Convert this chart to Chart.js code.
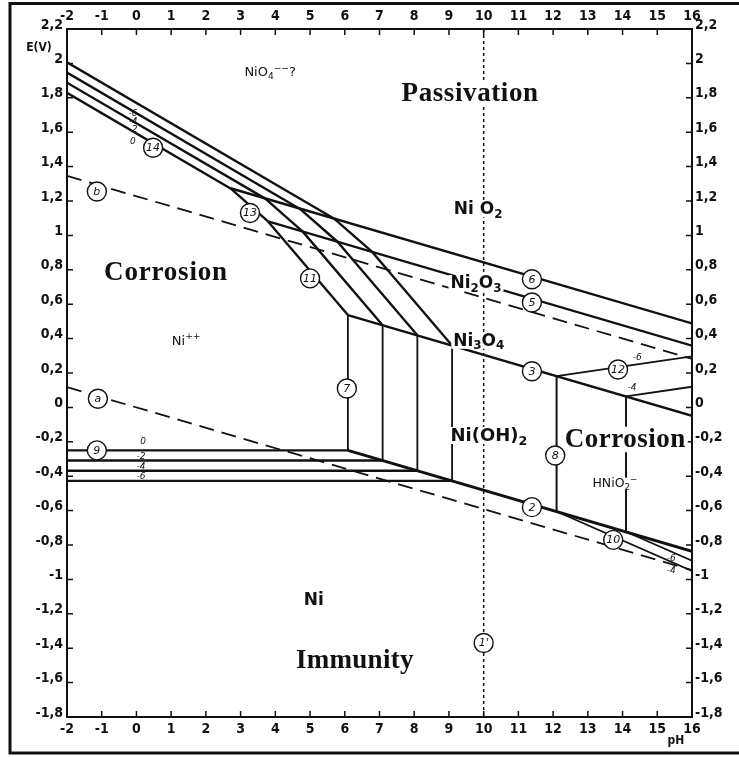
<!DOCTYPE html>
<html>
<head>
<meta charset="utf-8">
<script src="https://cdn.jsdelivr.net/npm/chart.js@4.4.1/dist/chart.umd.min.js"></script>
<style>
  html, body { margin: 0; padding: 0; background: #fff; }
  canvas { display: block; }
</style>
</head>
<body>
<canvas id="pourbaix" width="739" height="757"></canvas>
<script>
// axis ranges
const phMin = -2, phMax = 16;
const eMin = -1.8, eMax = 2.2;

// water lines (dashed) and the pH 10 reference (dotted)
const lineA = [[-2, 0.118], [16, -0.946]];
const lineB = [[-2, 1.346], [16, 0.282]];
const line1p = [[10, 2.2], [10, -1.8]];

// one segment per concentration (log C = 0, -2, -4, -6)
const line14 = [
    [[-2, 1.829], [2.71, 1.273]],
    [[-2, 1.888], [3.71, 1.214]],
    [[-2, 1.947], [4.71, 1.154]],
    [[-2, 2.006], [5.71, 1.095]]
];
const line13 = [
    [[2.71, 1.273], [3.79, 1.081]],
    [[3.71, 1.214], [4.79, 1.022]],
    [[4.71, 1.154], [5.79, 0.963]],
    [[5.71, 1.095], [6.79, 0.904]]
];
const line11 = [
    [[3.79, 1.081], [6.09, 0.537]],
    [[4.79, 1.022], [7.09, 0.478]],
    [[5.79, 0.963], [8.09, 0.419]],
    [[6.79, 0.904], [9.09, 0.360]]
];
const line7 = [
    [[6.09, -0.250], [6.09, 0.537]],
    [[7.09, -0.309], [7.09, 0.478]],
    [[8.09, -0.368], [8.09, 0.419]],
    [[9.09, -0.427], [9.09, 0.360]]
];
const line9 = [
    [[-2, -0.250], [6.09, -0.250]],
    [[-2, -0.309], [7.09, -0.309]],
    [[-2, -0.368], [8.09, -0.368]],
    [[-2, -0.427], [9.09, -0.427]]
];
const line6 = [[2.71, 1.274], [16, 0.488]];
const line5 = [[3.79, 1.081], [16, 0.359]];
const line3 = [[6.09, 0.537], [16, -0.049]];
const line2 = [[6.09, -0.250], [16, -0.836]];
// HNiO2- side (log C = -6, -4)
const line8 = [
    [[12.1, -0.605], [12.1, 0.182]],
    [[14.1, -0.723], [14.1, 0.064]]
];
const line12 = [
    [[12.1, 0.182], [16, 0.297]],
    [[14.1, 0.064], [16, 0.120]]
];
const line10 = [
    [[12.1, -0.605], [16, -0.951]],
    [[14.1, -0.723], [16, -0.891]]
];

// circled line numbers
const circleTags = [
    ['14', 0.48, 1.51], ['b', -1.14, 1.255], ['13', 3.27, 1.13], ['11', 5.0, 0.75],
    ['6', 11.39, 0.745], ['5', 11.39, 0.61], ['3', 11.39, 0.21], ['12', 13.87, 0.22],
    ['7', 6.06, 0.11], ['8', 12.06, -0.28], ['a', -1.11, 0.05], ['9', -1.14, -0.25],
    ['2', 11.39, -0.58], ['10', 13.73, -0.77], ["1'", 10.0, -1.37]
];

// small concentration marks
const concTags = [
    ['0', -0.1, 1.545], ['-2', -0.1, 1.613], ['-4', -0.1, 1.66], ['-6', -0.1, 1.71],
    ['0', 0.19, -0.2], ['-2', 0.13, -0.288], ['-4', 0.13, -0.346], ['-6', 0.13, -0.405],
    ['-6', 14.42, 0.29], ['-4', 14.27, 0.115], ['-6', 15.4, -0.88], ['-4', 15.4, -0.95]
];

const BLACK = '#111';
const TICK_FONT = "'Liberation Sans Narrow', 'DejaVu Sans Condensed', sans-serif";
const CHEM_FONT = "'DejaVu Sans', sans-serif";
const SERIF_FONT = "'Liberation Serif', 'DejaVu Serif', serif";

// region labels: parts are [text, '' | 'sub' | 'sup']
const regionLabels = [
    { parts: [['Passivation', '']], x: 9.61, y: 1.82, font: SERIF_FONT, size: 27, bg: true, spacing: 0.6 },
    { parts: [['Corrosion', '']], x: 0.85, y: 0.78, font: SERIF_FONT, size: 27, spacing: 0.8 },
    { parts: [['Corrosion', '']], x: 14.08, y: -0.19, font: SERIF_FONT, size: 27, bg: true, spacing: 0.5 },
    { parts: [['Immunity', '']], x: 6.29, y: -1.475, font: SERIF_FONT, size: 27, spacing: 0.3 },
    { parts: [['Ni O', ''], ['2', 'sub']], x: 9.84, y: 1.15, font: CHEM_FONT, size: 17, bg: true },
    { parts: [['Ni', ''], ['2', 'sub'], ['O', ''], ['3', 'sub']], x: 9.78, y: 0.72, font: CHEM_FONT, size: 17, bg: true },
    { parts: [['Ni', ''], ['3', 'sub'], ['O', ''], ['4', 'sub']], x: 9.86, y: 0.385, font: CHEM_FONT, size: 17, bg: true },
    { parts: [['Ni(OH)', ''], ['2', 'sub']], x: 10.15, y: -0.166, font: CHEM_FONT, size: 18, bg: true },
    { parts: [['Ni', '']], x: 5.11, y: -1.126, font: CHEM_FONT, size: 17 },
    { parts: [['Ni', ''], ['++', 'sup']], x: 1.43, y: 0.385, font: CHEM_FONT, size: 13, weight: 'normal' },
    { parts: [['HNiO', ''], ['2', 'sub'], ['\u2212', 'sup']], x: 13.78, y: -0.445, font: CHEM_FONT, size: 12.5, weight: 'normal', bg: true },
    { parts: [['NiO', ''], ['4', 'sub'], ['\u2212\u2212', 'sup'], ['?', '']], x: 3.85, y: 1.944, font: CHEM_FONT, size: 13, weight: 'normal' }
];

function seg(points, dash, width) {
    return {
        data: points.map(p => ({ x: p[0], y: p[1] })),
        showLine: true,
        borderColor: BLACK,
        borderWidth: width || 2.4,
        borderDash: dash || [],
        pointRadius: 0,
        fill: false
    };
}

const datasets = [
    seg(lineA, [15, 8], 1.8),
    seg(lineB, [15, 8], 1.8),
    seg(line1p, [3, 3], 1.5),
    ...line14.map(s => seg(s)),
    ...line13.map(s => seg(s)),
    ...line11.map(s => seg(s)),
    ...line7.map(s => seg(s, null, 1.8)),
    ...line9.map(s => seg(s)),
    seg(line6), seg(line5), seg(line3), seg(line2, null, 3),
    ...line8.map(s => seg(s, null, 2)),
    ...line12.map(s => seg(s, null, 1.8)),
    ...line10.map(s => seg(s, null, 1.8))
];

function fmt(v) {
    const r = Math.round(v * 10) / 10;
    return String(r).replace('.', ',');
}

function setFont(ctx, lbl, mode) {
    const s = mode ? lbl.size * 0.7 : lbl.size;
    ctx.font = `${lbl.weight || 'bold'} ${s}px ${lbl.font}`;
    ctx.letterSpacing = (lbl.spacing || 0) + 'px';
}

function drawChem(ctx, lbl, cx, cy) {
    let w = 0;
    lbl.parts.forEach(([t, mode]) => { setFont(ctx, lbl, mode); w += ctx.measureText(t).width; });
    if (lbl.bg) {
        ctx.fillStyle = '#fff';
        ctx.fillRect(cx - w / 2 - 2, cy - lbl.size * 0.5, w + 4, lbl.size * 0.95);
    }
    let x = cx - w / 2;
    ctx.fillStyle = BLACK;
    ctx.textBaseline = 'middle';
    ctx.textAlign = 'left';
    lbl.parts.forEach(([t, mode]) => {
        setFont(ctx, lbl, mode);
        let dy = 0;
        if (mode === 'sub') dy = lbl.size * 0.3;
        if (mode === 'sup') dy = -lbl.size * 0.35;
        ctx.fillText(t, x, cy + dy);
        x += ctx.measureText(t).width;
    });
    ctx.letterSpacing = '0px';
}

const decorations = {
    id: 'decorations',
    afterDatasetsDraw(chart) {
        const { ctx, chartArea: a, scales } = chart;
        const xs = scales.x, ys = scales.y;
        ctx.save();

        // inward tick marks on all four sides
        ctx.strokeStyle = BLACK;
        ctx.lineWidth = 1.5;
        ctx.beginPath();
        xs.ticks.forEach(t => {
            const px = xs.getPixelForValue(t.value);
            ctx.moveTo(px, a.top); ctx.lineTo(px, a.top + 6);
            ctx.moveTo(px, a.bottom); ctx.lineTo(px, a.bottom - 6);
        });
        ys.ticks.forEach(t => {
            const py = ys.getPixelForValue(t.value);
            ctx.moveTo(a.left, py); ctx.lineTo(a.left + 6, py);
            ctx.moveTo(a.right, py); ctx.lineTo(a.right - 6, py);
        });
        ctx.stroke();

        // region and species labels
        regionLabels.forEach(l => {
            drawChem(ctx, l, xs.getPixelForValue(l.x), ys.getPixelForValue(l.y));
        });

        // small concentration marks
        ctx.font = `italic 9px ${CHEM_FONT}`;
        ctx.textAlign = 'center';
        ctx.textBaseline = 'middle';
        ctx.fillStyle = BLACK;
        concTags.forEach(([t, x, y]) => {
            ctx.fillText(t, xs.getPixelForValue(x), ys.getPixelForValue(y));
        });

        // circled line numbers
        circleTags.forEach(([t, x, y]) => {
            const px = xs.getPixelForValue(x), py = ys.getPixelForValue(y);
            ctx.beginPath();
            ctx.arc(px, py, 9.5, 0, Math.PI * 2);
            ctx.fillStyle = '#fff';
            ctx.fill();
            ctx.lineWidth = 1.4;
            ctx.strokeStyle = BLACK;
            ctx.stroke();
            ctx.fillStyle = BLACK;
            ctx.font = `italic 11px ${CHEM_FONT}`;
            ctx.fillText(t, px, py + 0.5);
        });

        // axis captions
        ctx.font = `bold 12px ${TICK_FONT}`;
        ctx.textAlign = 'center';
        ctx.fillText('E(V)', a.left - 28, a.top + 19);
        ctx.fillText('pH', a.right - 16, a.bottom + 24);

        // outer frame (right edge runs off the picture)
        ctx.lineWidth = 3;
        ctx.strokeRect(10, 3.5, 745, 749.5);
        ctx.restore();
    }
};

const tickFont = { family: TICK_FONT, size: 14, weight: 'bold' };

function xAxis(position, height, pad) {
    return {
        type: 'linear', position, min: phMin, max: phMax,
        afterBuildTicks: s => { s.ticks = []; for (let v = phMin; v <= phMax; v++) s.ticks.push({ value: v }); },
        ticks: { color: BLACK, font: tickFont, padding: pad, maxRotation: 0, autoSkip: false, callback: v => fmt(v) },
        grid: { display: false, drawTicks: false },
        border: { display: true, color: BLACK, width: 2 },
        afterFit: s => { s.height = height; }
    };
}

function yAxis(position, width, pad) {
    return {
        type: 'linear', position, min: eMin, max: eMax,
        afterBuildTicks: s => { s.ticks = []; for (let i = 0; i <= 20; i++) s.ticks.push({ value: Math.round((eMin + i * 0.2) * 10) / 10 }); },
        ticks: { color: BLACK, font: tickFont, padding: pad, labelOffset: -4, autoSkip: false, callback: v => fmt(v) },
        grid: { display: false, drawTicks: false },
        border: { display: true, color: BLACK, width: 2 },
        afterFit: s => { s.width = width; }
    };
}

new Chart(document.getElementById('pourbaix'), {
    type: 'scatter',
    data: { datasets },
    options: {
        responsive: false,
        animation: false,
        events: [],
        layout: { padding: 0 },
        plugins: { legend: { display: false }, tooltip: { enabled: false } },
        scales: {
            x: xAxis('bottom', 40, 4),
            x2: xAxis('top', 29, 4),
            y: yAxis('left', 67, 4),
            y2: yAxis('right', 47, 3)
        }
    },
    plugins: [decorations]
});
</script>
</body>
</html>
